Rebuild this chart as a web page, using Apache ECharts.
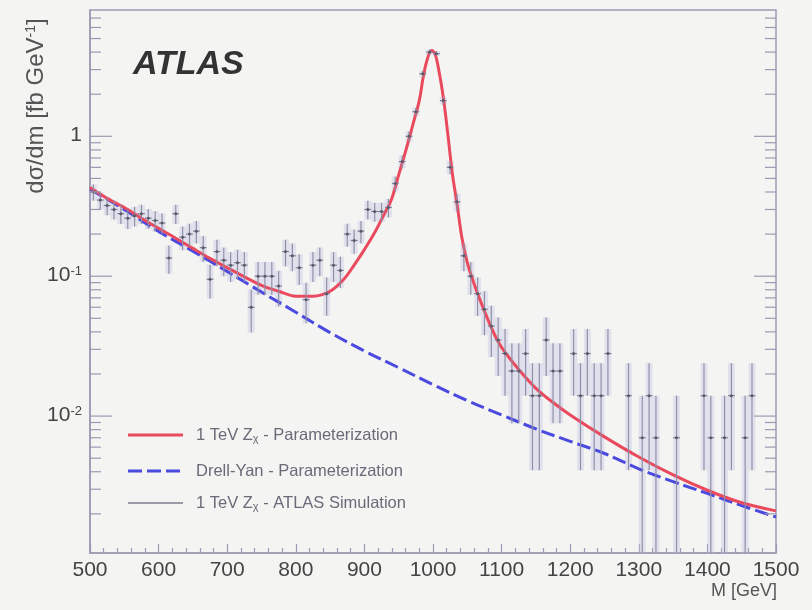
<!DOCTYPE html>
<html>
<head>
<meta charset="utf-8">
<script src="https://cdn.jsdelivr.net/npm/echarts@6/dist/echarts.min.js"></script>
<style>
  html, body { margin: 0; padding: 0; background: #f4f4f2; }
  #chart { width: 812px; height: 610px; }
</style>
</head>
<body>
<div id="chart"></div>
<script>
// Simulated 1 TeV Z' -> ee mass spectrum (10 GeV bins)
const binCenters = [
  505, 515, 525, 535, 545, 555, 565, 575, 585, 595,
  605, 615, 625, 635, 645, 655, 665, 675, 685, 695,
  705, 715, 725, 735, 745, 755, 765, 775, 785, 795,
  805, 815, 825, 835, 845, 855, 865, 875, 885, 895,
  905, 915, 925, 935, 945, 955, 965, 975, 985, 995,
  1005, 1015, 1025, 1035, 1045, 1055, 1065, 1075, 1085, 1095,
  1105, 1115, 1125, 1135, 1145, 1155, 1165, 1175, 1185,
  1205, 1215, 1225, 1235, 1245, 1255,
  1285, 1305, 1315, 1325, 1355, 1395, 1405, 1425, 1435, 1455, 1465
];
const binValues = [
  0.40, 0.35, 0.32, 0.30, 0.28, 0.26, 0.27, 0.28, 0.26, 0.25,
  0.24, 0.135, 0.28, 0.19, 0.20, 0.21, 0.16, 0.095, 0.15, 0.13,
  0.12, 0.125, 0.12, 0.06, 0.10, 0.10, 0.10, 0.085, 0.15, 0.14,
  0.115, 0.068, 0.12, 0.13, 0.075, 0.12, 0.11, 0.20, 0.18, 0.21,
  0.30, 0.29, 0.29, 0.31, 0.46, 0.66, 1.0, 1.5, 2.8, 4.0,
  3.9, 1.8, 0.6, 0.34, 0.14, 0.10, 0.075, 0.058, 0.044, 0.035,
  0.028, 0.021, 0.021, 0.028, 0.014, 0.014, 0.035, 0.021, 0.021,
  0.028, 0.014, 0.028, 0.014, 0.014, 0.028,
  0.014, 0.007, 0.014, 0.007, 0.007, 0.014, 0.007, 0.007, 0.014, 0.007, 0.014
];
// cross section carried by one simulated event in a bin
const eventWeight = 0.007;
const binWidth = 10;

// Signal + background parameterization
const zprimeMass = [
  500, 525, 550, 575, 600, 625, 650, 675, 700, 725, 750, 775, 800, 825, 850,
  870, 885, 900, 915, 930, 940, 950, 960, 970, 980, 986, 992, 998, 1003,
  1010, 1016, 1022, 1028, 1035, 1042, 1050, 1060, 1070, 1080, 1090, 1100,
  1125, 1150, 1175, 1200, 1250, 1300, 1350, 1400, 1450, 1500
];
const zprimeValues = [
  0.43, 0.36, 0.31, 0.26, 0.22, 0.187, 0.158, 0.134, 0.115, 0.099, 0.086, 0.078, 0.072, 0.072, 0.078,
  0.095, 0.12, 0.155, 0.205, 0.285, 0.36, 0.53, 0.78, 1.18, 1.8, 2.7, 3.6, 4.1, 3.9,
  2.7, 1.75, 1.0, 0.55, 0.33, 0.19, 0.125, 0.088, 0.065, 0.049, 0.038, 0.031,
  0.0215, 0.0158, 0.0125, 0.0102, 0.0071, 0.0051, 0.0038, 0.00295, 0.0024, 0.0021
];

// Drell-Yan background parameterization
const dyMass = [500, 550, 600, 650, 700, 750, 800, 850, 900, 950, 1000,
                1050, 1100, 1150, 1200, 1250, 1300, 1350, 1400, 1450, 1500];
const dyValues = [0.42, 0.30, 0.209, 0.151, 0.108, 0.077, 0.0553, 0.0395, 0.0292, 0.0222, 0.0168,
                  0.0129, 0.0102, 0.0081, 0.0066, 0.0054, 0.0042, 0.0034, 0.0028, 0.00229, 0.0019];

// Axis ranges
const xMin = 500, xMax = 1500, xStep = 100;
const yMin = 0.00105, yMax = 8;
const yDecades = [-3, -2, -1, 0];
const yMantissas = [1, 2, 3, 4, 5, 6, 7, 8, 9];

const frameColor = '#9a9ab4';
const textColor = '#444';
const fontFamily = '"Liberation Sans", Arial, sans-serif';

// histogram rows: [mass, value, low, high] with Poisson errors of the weighted counts
const histRows = binCenters.map((m, i) => {
  const v = binValues[i];
  const err = Math.sqrt(v * eventWeight);
  return [m, v, v - err, v + err];
});

// log-axis tick marks (major at decades, minor at 2..9)
const yTickRows = [];
yDecades.forEach(d => yMantissas.forEach(k => {
  const v = k * Math.pow(10, d);
  if (v > yMin && v < yMax) yTickRows.push([xMin, v, k === 1 ? 22 : 11]);
}));

const chart = echarts.init(document.getElementById('chart'), null, { renderer: 'canvas' });

function renderBoxes(params, api) {
  const m = api.value(0);
  const lo = Math.max(api.value(2), yMin);
  const hi = api.value(3);
  const a = api.coord([m - binWidth / 2, lo]);
  const b = api.coord([m + binWidth / 2, hi]);
  return {
    type: 'rect',
    shape: { x: a[0], y: b[1], width: b[0] - a[0], height: a[1] - b[1] },
    style: { fill: 'rgba(192,194,226,0.38)' }
  };
}

function renderErrors(params, api) {
  const m = api.value(0);
  const v = api.value(1);
  const lo = Math.max(api.value(2), yMin);
  const hi = api.value(3);
  const c = api.coord([m, v]);
  const pl = api.coord([m, lo]);
  const ph = api.coord([m, hi]);
  const l = api.coord([m - binWidth / 2, v]);
  const r = api.coord([m + binWidth / 2, v]);
  return {
    type: 'group',
    children: [
      { type: 'line', shape: { x1: c[0], y1: pl[1], x2: c[0], y2: ph[1] },
        style: { stroke: '#9090a8', lineWidth: 1.2 } },
      { type: 'line', shape: { x1: l[0], y1: c[1], x2: r[0], y2: c[1] },
        style: { stroke: '#80809a', lineWidth: 1.2 } },
      { type: 'circle', shape: { cx: c[0], cy: c[1], r: 1.5 },
        style: { fill: '#5a5a66' } }
    ]
  };
}

function renderYTicks(params, api) {
  const v = api.value(1);
  const len = api.value(2);
  const a = api.coord([xMin, v]);
  const b = api.coord([xMax, v]);
  return {
    type: 'group',
    children: [
      { type: 'line', shape: { x1: a[0], y1: a[1], x2: a[0] + len, y2: a[1] },
        style: { stroke: frameColor, lineWidth: 1.2 } },
      { type: 'line', shape: { x1: b[0] - len, y1: b[1], x2: b[0], y2: b[1] },
        style: { stroke: frameColor, lineWidth: 1.2 } }
    ]
  };
}

const legendRows = [
  { y: 435, text: '1 TeV Z{sub|χ} - Parameterization', color: '#ea4a5e', dash: null, width: 3 },
  { y: 471, text: 'Drell-Yan - Parameterization', color: '#4a4ae0', dash: [14, 5], width: 3 },
  { y: 503, text: '1 TeV Z{sub|χ} - ATLAS Simulation', color: '#9a9aa6', dash: null, width: 2 }
];

const graphics = [
  {
    type: 'text', left: 133, top: 48,
    style: { text: 'ATLAS', font: 'italic bold 34px ' + fontFamily, fill: '#333' }
  },
  {
    type: 'text', x: 38, y: 106, rotation: Math.PI / 2,
    style: {
      text: '{a|dσ/dm [fb GeV}{s|-1}{a|]}',
      align: 'center', verticalAlign: 'middle',
      rich: {
        a: { fontSize: 24, fontFamily: fontFamily, fill: '#555', verticalAlign: 'top', lineHeight: 28 },
        s: { fontSize: 14, fontFamily: fontFamily, fill: '#555', verticalAlign: 'top', lineHeight: 28 }
      }
    }
  },
  {
    type: 'text', right: 35, top: 582,
    style: { text: 'M [GeV]', font: '18px ' + fontFamily, fill: '#555' }
  }
];
legendRows.forEach(row => {
  graphics.push({
    type: 'line',
    shape: { x1: 128, y1: row.y, x2: 183, y2: row.y },
    style: { stroke: row.color, lineWidth: row.width, lineDash: row.dash }
  });
  graphics.push({
    type: 'text', x: 196, y: row.y,
    style: {
      text: row.text, verticalAlign: 'middle',
      font: '16.5px ' + fontFamily, fill: '#6a6a78',
      rich: { sub: { fontSize: 11, fill: '#6a6a78', verticalAlign: 'bottom', lineHeight: 19 } }
    }
  });
});

const option = {
  backgroundColor: '#f4f4f2',
  animation: false,
  grid: { left: 90, right: 36, top: 10, bottom: 57, show: true, borderColor: frameColor, borderWidth: 1.5, backgroundColor: 'transparent' },
  xAxis: {
    type: 'value', min: xMin, max: xMax, interval: xStep,
    axisLine: { show: true, lineStyle: { color: frameColor, width: 1.5 } },
    axisTick: { show: true, inside: true, length: 9, lineStyle: { color: frameColor, width: 1.2 } },
    minorTick: { show: true, splitNumber: 5, length: 5, lineStyle: { color: frameColor, width: 1.2 } },
    splitLine: { show: false },
    axisLabel: {
      fontSize: 21, color: textColor, margin: 7, fontFamily: fontFamily,
      formatter: v => String(v)
    }
  },
  yAxis: {
    type: 'log', logBase: 10, min: yMin, max: yMax,
    axisLine: { show: true, lineStyle: { color: frameColor, width: 1.5 } },
    axisTick: { show: false },
    splitLine: { show: false },
    axisLabel: {
      margin: 8,
      formatter: function (v) {
        const e = Math.log10(v);
        const r = Math.round(e);
        if (Math.abs(e - r) > 1e-6) return '';
        return r === 0 ? '{b|1}' : '{b|10}{s|' + r + '}';
      },
      rich: {
        b: { fontSize: 21, color: textColor, fontFamily: fontFamily, verticalAlign: 'top', lineHeight: 23 },
        s: { fontSize: 13, color: textColor, fontFamily: fontFamily, verticalAlign: 'top', lineHeight: 23 }
      }
    }
  },
  graphic: graphics,
  series: [
    {
      name: 'boxes', type: 'custom', renderItem: renderBoxes, data: histRows,
      encode: { x: 0, y: [1, 2, 3] }, clip: true, silent: true, z: 1
    },
    {
      name: 'Drell-Yan - Parameterization', type: 'line', data: dyMass.map((m, i) => [m, dyValues[i]]),
      smooth: 0.4, showSymbol: false, symbol: 'none', silent: true, z: 2,
      lineStyle: { color: '#4a4ae0', width: 3, type: [14, 5] }
    },
    {
      name: '1 TeV Zχ - Parameterization', type: 'line', data: zprimeMass.map((m, i) => [m, zprimeValues[i]]),
      smooth: 0.35, showSymbol: false, symbol: 'none', silent: true, z: 3,
      lineStyle: { color: '#ea4a5e', width: 3 }
    },
    {
      name: '1 TeV Zχ - ATLAS Simulation', type: 'custom', renderItem: renderErrors, data: histRows,
      encode: { x: 0, y: [1, 2, 3] }, clip: true, silent: true, z: 4
    },
    {
      name: 'yticks', type: 'custom', renderItem: renderYTicks, data: yTickRows,
      encode: { x: 0, y: 1 }, clip: false, silent: true, z: 5
    }
  ]
};
chart.setOption(option);
</script>
</body>
</html>
